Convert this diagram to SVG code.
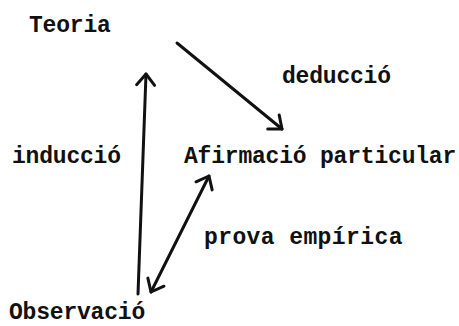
<svg xmlns="http://www.w3.org/2000/svg" width="459" height="326" viewBox="0 0 459 326">
  <style>
    .lbl { font-family: "Liberation Mono", "Courier New", monospace; font-weight: bold; font-size: 23px; fill: #111; letter-spacing: -0.2px; }
    .conn { stroke: #111; stroke-width: 3; fill: none; stroke-linecap: round; }
  </style>
  <defs>
    <marker id="head" markerUnits="userSpaceOnUse" viewBox="-14 -12 16 24" refX="0" refY="0" markerWidth="16" markerHeight="24" orient="auto-start-reverse" overflow="visible">
      <path d="M -11 -9 L 0 0 L -11 9" fill="none" stroke="#111" stroke-width="3" stroke-linecap="round" stroke-linejoin="round"/>
    </marker>
  </defs>
  <rect width="459" height="326" fill="#fff"/>
  <g id="connectors">
    <line id="deduccio" class="conn" x1="177" y1="43" x2="282" y2="129" marker-end="url(#head)"/>
    <line id="induccio" class="conn" x1="138" y1="294" x2="146" y2="74" marker-end="url(#head)"/>
    <line id="prova" class="conn" x1="151" y1="292" x2="209" y2="176" marker-start="url(#head)" marker-end="url(#head)"/>
  </g>
  <g id="teoria"><text class="lbl" x="29" y="32">Teoria</text></g>
  <g id="afirmacio"><text class="lbl" x="184" y="163">Afirmació particular</text></g>
  <g id="observacio"><text class="lbl" x="9" y="319">Observació</text></g>
  <g id="labels">
    <text class="lbl" x="282" y="83">deducció</text>
    <text class="lbl" x="12" y="163">inducció</text>
    <text class="lbl" x="204" y="244" style="letter-spacing:0.4px">prova empírica</text>
  </g>
</svg>
